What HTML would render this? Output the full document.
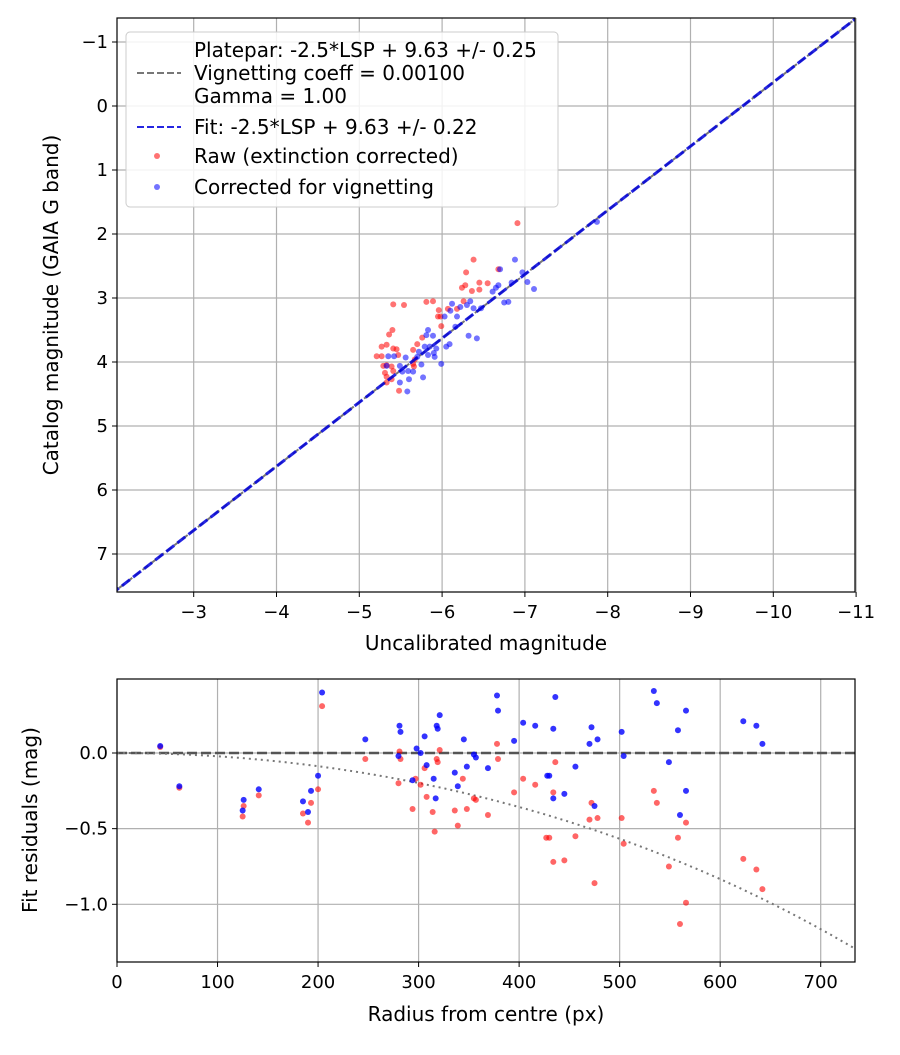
<!DOCTYPE html>
<html><head><meta charset="utf-8"><style>
body{margin:0;background:#fff}
svg{font-family:"DejaVu Sans","Liberation Sans",sans-serif}
</style></head><body>
<svg id="c" width="900" height="1050" xmlns="http://www.w3.org/2000/svg"></svg>
<script>
// ---- top chart data (uncalibrated mag, catalog mag) ----
const rawX=[-6.91,-6.38,-6.29,-6.68,-6.45,-6.55,-6.28,-6.24,-6.36,-6.45,-5.41,-5.54,-5.81,-5.89,-5.96,-6.07,-6.18,-6.26,-5.95,-5.98,-5.99,-5.40,-5.36,-5.76,-5.70,-5.27,-5.33,-5.41,-5.45,-5.65,-5.21,-5.27,-5.47,-5.29,-5.33,-5.39,-5.67,-5.65,-5.66,-5.41,-5.33,-5.39,-5.33,-5.48,-5.31];
const rawY=[1.83,2.40,2.60,2.55,2.76,2.77,2.80,2.84,2.89,2.87,3.10,3.11,3.06,3.05,3.19,3.17,3.17,3.05,3.29,3.29,3.44,3.50,3.57,3.62,3.72,3.76,3.73,3.79,3.80,3.81,3.91,3.91,3.89,4.06,4.05,4.07,3.96,4.03,4.07,4.14,4.23,4.27,4.32,4.45,4.17];
const corX=[-6.88,-6.70,-6.97,-6.84,-7.03,-7.11,-6.68,-6.65,-6.61,-6.75,-6.80,-6.12,-6.22,-6.30,-6.34,-6.38,-6.47,-6.10,-6.03,-6.18,-6.16,-5.83,-5.81,-5.89,-6.32,-6.42,-5.79,-5.85,-5.93,-6.05,-6.09,-5.90,-5.91,-5.83,-5.72,-5.70,-5.56,-5.35,-5.42,-5.33,-5.49,-5.75,-5.99,-5.52,-5.59,-5.65,-5.77,-5.60,-5.49,-5.58,-7.87];
const corY=[2.40,2.55,2.60,2.76,2.75,2.86,2.80,2.84,2.90,3.07,3.06,3.09,3.14,3.11,3.05,3.16,3.16,3.20,3.29,3.29,3.45,3.50,3.58,3.59,3.59,3.63,3.76,3.76,3.79,3.76,3.72,3.86,3.92,3.89,3.84,3.92,3.93,3.91,3.91,4.06,4.06,4.04,4.03,4.15,4.14,4.15,4.24,4.27,4.32,4.46,1.81];
const fitZP=9.63, vignK=0.001;
const topXTicks=[-3,-4,-5,-6,-7,-8,-9,-10,-11];
const topYTicks=[-1,0,1,2,3,4,5,6,7];
// ---- bottom chart data (radius px, residual mag) ----
const resRawR=[43,62,126,125,141,185,190,193,200,204,247,281,282,280,297,302,306,308,294,314,316,318,319,321,336,339,344,348,355,357,369,378,379,395,404,416,436,434,427,430,434,445,456,472,470,478,475,502,504,534,537,549,558,566,566,560,623,636,642];
const resRawV=[0.04,-0.23,-0.35,-0.42,-0.28,-0.40,-0.46,-0.33,-0.24,0.31,-0.04,0.01,-0.04,-0.20,-0.17,-0.21,-0.10,-0.29,-0.37,-0.39,-0.52,-0.04,-0.06,0.02,-0.38,-0.48,-0.17,-0.37,-0.30,-0.31,-0.41,0.06,-0.04,-0.26,-0.17,-0.21,-0.06,-0.26,-0.56,-0.56,-0.72,-0.71,-0.55,-0.33,-0.44,-0.43,-0.86,-0.43,-0.60,-0.25,-0.33,-0.75,-0.56,-0.46,-0.99,-1.13,-0.70,-0.77,-0.90];
const resCorR=[43,62,126,125,141,185,190,193,200,204,247,281,282,280,294,298,302,306,308,315,317,318,319,321,336,339,345,348,355,357,369,378,379,395,404,416,436,434,428,430,434,445,456,472,470,478,475,502,504,534,537,549,558,566,566,560,623,636,642];
const resCorV=[0.046,-0.22,-0.31,-0.38,-0.24,-0.32,-0.39,-0.25,-0.15,0.40,0.09,0.18,0.14,-0.02,-0.18,0.03,0.0,0.11,-0.08,-0.17,-0.30,0.18,0.16,0.25,-0.13,-0.22,0.09,-0.09,-0.01,-0.03,-0.10,0.38,0.28,0.08,0.20,0.18,0.37,0.16,-0.15,-0.15,-0.30,-0.27,-0.09,0.17,0.06,0.09,-0.35,0.14,-0.02,0.41,0.33,-0.06,0.15,0.28,-0.25,-0.41,0.21,0.18,0.06];
const botXTicks=[0,100,200,300,400,500,600,700];
const botYTicks=[0.0,-0.5,-1.0];
const botYLabels=["0.0","−0.5","−1.0"];

const NS="http://www.w3.org/2000/svg";
const svg=document.getElementById('c');
function mk(tag,attrs,parent,txt){const e=document.createElementNS(NS,tag);for(const k in attrs)e.setAttribute(k,attrs[k]);if(txt!==undefined)e.textContent=txt;(parent||svg).appendChild(e);return e;}
const minus=s=>String(s).replace('-','−');
const TF=18, LF=20, PR=3;

// ---- top axes ----
const T={l:117,r:855,t:18,b:592};
const tx=v=>359.3+(-5-v)*82.8;
const ty=v=>106+v*64;
const gTop=mk('g',{});


mk('defs',{},gTop).innerHTML='<clipPath id="cpT"><rect x="117" y="18" width="738" height="574"/></clipPath><clipPath id="cpB"><rect x="117" y="679" width="738" height="283"/></clipPath>';
topXTicks.forEach(v=>{const x=tx(v);
 const g=mk('line',{x1:x,x2:x,y1:T.t,y2:T.b,stroke:'#b0b0b0','stroke-width':1.2},gTop);
 
 mk('line',{x1:x,x2:x,y1:T.b,y2:T.b+5,stroke:'#000','stroke-width':1},gTop);
 const t=mk('text',{x:x,y:T.b+26,'font-size':TF,'text-anchor':'middle'},gTop,minus(v));
 });
topYTicks.forEach(v=>{const y=ty(v);
 const g=mk('line',{x1:T.l,x2:T.r,y1:y,y2:y,stroke:'#b0b0b0','stroke-width':1.2},gTop);
 
 mk('line',{x1:T.l-5,x2:T.l,y1:y,y2:y,stroke:'#000','stroke-width':1},gTop);
 const t=mk('text',{x:T.l-9,y:y+6,'font-size':TF,'text-anchor':'end'},gTop,minus(v));
 });
const cT=mk('g',{'clip-path':'url(#cpT)'},gTop);
const xa=-2.0, xb=-11.2;
const pl=mk('line',{x1:tx(xa),y1:ty(xa+fitZP),x2:tx(xb),y2:ty(xb+fitZP),stroke:'#777','stroke-width':2,'stroke-dasharray':'7,3'},cT);

rawX.forEach((v,i)=>{const c=mk('circle',{cx:tx(v),cy:ty(rawY[i]),r:PR,fill:'rgba(255,0,0,0.55)'},cT);
 });
corX.forEach((v,i)=>{const c=mk('circle',{cx:tx(v),cy:ty(corY[i]),r:PR,fill:'rgba(0,0,255,0.55)'},cT);
 });
const fl=mk('line',{x1:tx(xa),y1:ty(xa+fitZP),x2:tx(xb),y2:ty(xb+fitZP),stroke:'rgba(0,0,220,0.85)','stroke-width':3,'stroke-dasharray':'10,4'},cT);

mk('rect',{x:T.l,y:T.t,width:T.r-T.l,height:T.b-T.t,fill:'none',stroke:'#000','stroke-width':1.2},gTop);
const xl=mk('text',{x:486,y:650,'font-size':LF,'text-anchor':'middle'},gTop,'Uncalibrated magnitude');

const yl=mk('text',{x:0,y:0,'font-size':LF,'text-anchor':'middle',transform:'translate(58,305) rotate(-90)'},gTop,'Catalog magnitude (GAIA G band)');

// legend
const lg=mk('g',{},gTop);


mk('rect',{x:126,y:32,width:432,height:175,rx:4,fill:'rgba(255,255,255,0.85)',stroke:'#ccc','stroke-width':1},lg);
const le=[['Platepar: -2.5*LSP + 9.63 +/- 0.25',57,null],['Vignetting coeff = 0.00100',80,'gray'],['Gamma = 1.00',103,null],['Fit: -2.5*LSP + 9.63 +/- 0.22',134,'blue'],['Raw (extinction corrected)',163,'rawpt'],['Corrected for vignetting',194,'corpt']];
le.forEach(e=>{
 const t=mk('text',{x:194,y:e[1],'font-size':LF,textLength:null},lg,e[0]);
 t.removeAttribute('textLength');
 
 const cy=e[1]-7;
 if(e[2]==='gray')mk('line',{x1:137,x2:181,y1:cy,y2:cy,stroke:'#777','stroke-width':2,'stroke-dasharray':'7,3'},lg);
 if(e[2]==='blue')mk('line',{x1:137,x2:181,y1:cy,y2:cy,stroke:'rgba(0,0,220,0.85)','stroke-width':2,'stroke-dasharray':'7,3'},lg);
 if(e[2]==='rawpt')mk('circle',{cx:157,cy:cy,r:PR,fill:'rgba(255,0,0,0.55)'},lg);
 if(e[2]==='corpt')mk('circle',{cx:157,cy:cy,r:PR,fill:'rgba(0,0,255,0.55)'},lg);
});

// ---- bottom axes ----
const B={l:117,r:855,t:679,b:962};
const bx=v=>117+v*1.0053;
const by=v=>753-v*151.3;
const gB=mk('g',{});


botXTicks.forEach(v=>{const x=bx(v);
 const g=mk('line',{x1:x,x2:x,y1:B.t,y2:B.b,stroke:'#b0b0b0','stroke-width':1.2},gB);
 
 mk('line',{x1:x,x2:x,y1:B.b,y2:B.b+5,stroke:'#000','stroke-width':1},gB);
 const t=mk('text',{x:x,y:B.b+26,'font-size':TF,'text-anchor':'middle'},gB,String(v));
 });
botYTicks.forEach((v,i)=>{const y=by(v);
 const g=mk('line',{x1:B.l,x2:B.r,y1:y,y2:y,stroke:'#b0b0b0','stroke-width':1.2},gB);
 
 mk('line',{x1:B.l-5,x2:B.l,y1:y,y2:y,stroke:'#000','stroke-width':1},gB);
 const t=mk('text',{x:B.l-9,y:y+6,'font-size':TF,'text-anchor':'end'},gB,botYLabels[i]);
 });
const cB=mk('g',{'clip-path':'url(#cpB)'},gB);
const zl=mk('line',{x1:B.l,x2:B.r,y1:by(0),y2:by(0),stroke:'#555','stroke-width':2.4,'stroke-dasharray':'10,4'},cB);

let d='';for(let r=0;r<=740;r+=5){const v=10*Math.log10(Math.cos(vignK*r));d+=(r?'L':'M')+bx(r).toFixed(1)+','+by(v).toFixed(1);}
const vc=mk('path',{d:d,fill:'none',stroke:'#777','stroke-width':2,'stroke-dasharray':'2,4'},cB);

resRawR.forEach((v,i)=>{const c=mk('circle',{cx:bx(v),cy:by(resRawV[i]),r:PR,fill:'rgba(255,0,0,0.6)'},cB);
 });
resCorR.forEach((v,i)=>{const c=mk('circle',{cx:bx(v),cy:by(resCorV[i]),r:PR,fill:'rgba(0,0,255,0.8)'},cB);
 });
mk('rect',{x:B.l,y:B.t,width:B.r-B.l,height:B.b-B.t,fill:'none',stroke:'#000','stroke-width':1.2},gB);
const bxl=mk('text',{x:486,y:1021,'font-size':LF,'text-anchor':'middle'},gB,'Radius from centre (px)');

const byl=mk('text',{x:0,y:0,'font-size':LF,'text-anchor':'middle',transform:'translate(37,820) rotate(-90)'},gB,'Fit residuals (mag)');

</script>
</body></html>
